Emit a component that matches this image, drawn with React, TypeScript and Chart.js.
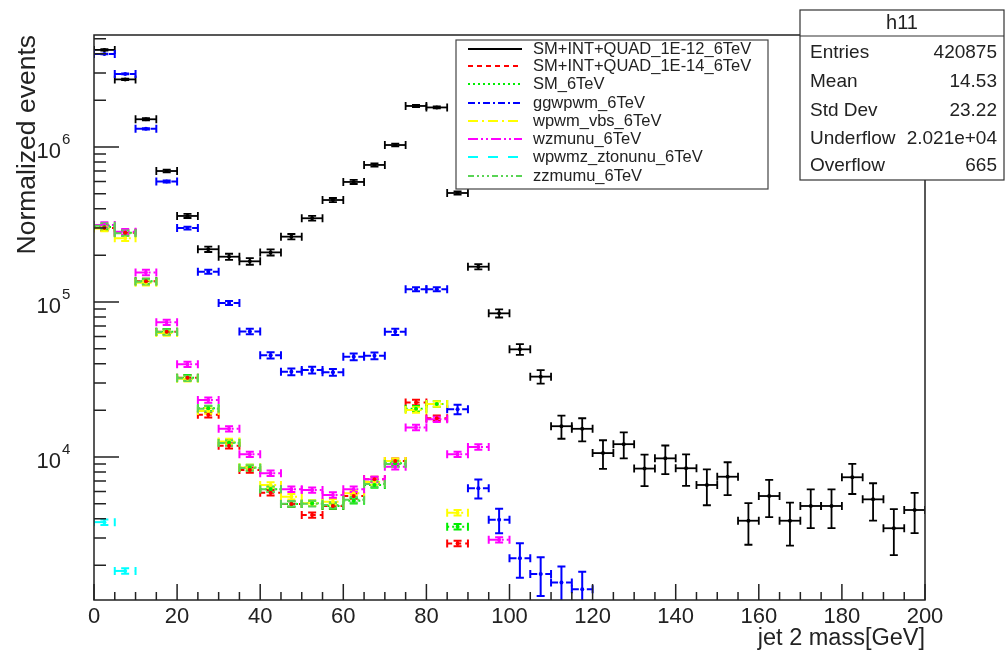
import { useEffect, useRef } from "react";
import { Chart, registerables } from "chart.js";

Chart.register(...registerables);

// ---- Data ----
const BIN_WIDTH = 5;
const binCenters = [
  2.5, 7.5, 12.5, 17.5, 22.5, 27.5, 32.5, 37.5, 42.5, 47.5,
  52.5, 57.5, 62.5, 67.5, 72.5, 77.5, 82.5, 87.5, 92.5, 97.5,
  102.5, 107.5, 112.5, 117.5, 122.5, 127.5, 132.5, 137.5, 142.5, 147.5,
  152.5, 157.5, 162.5, 167.5, 172.5, 177.5, 182.5, 187.5, 192.5, 197.5,
];

const quad12Values = [
  4.23e6, 2.73e6, 1.51e6, 7.0e5, 3.59e5, 2.19e5, 1.96e5, 1.83e5, 2.09e5, 2.64e5,
  3.47e5, 4.55e5, 5.95e5, 7.66e5, 1.03e6, 1.84e6, 1.8e6, 5.05e5, 1.69e5, 8.45e4,
  4.95e4, 3.3e4, 1.58e4, 1.52e4, 1.06e4, 1.21e4, 8.42e3, 9.8e3, 8.46e3, 6.6e3,
  7.46e3, 3.88e3, 5.6e3, 3.88e3, 4.83e3, 4.83e3, 7.4e3, 5.33e3, 3.47e3, 4.55e3,
];
const quad12RelErr = [
  0.01, 0.01, 0.015, 0.02, 0.03, 0.04, 0.045, 0.05, 0.045, 0.04,
  0.035, 0.03, 0.03, 0.025, 0.02, 0.015, 0.015, 0.025, 0.04, 0.06,
  0.08, 0.1, 0.17, 0.17, 0.21, 0.19, 0.23, 0.21, 0.23, 0.26,
  0.24, 0.3, 0.27, 0.31, 0.28, 0.28, 0.22, 0.27, 0.33, 0.29,
];

const quad14Values = [
  3.0e5, 2.8e5, 1.36e5, 6.43e4, 3.25e4, 1.87e4, 1.18e4, 8.24e3, 5.89e3, 4.98e3,
  4.22e3, 4.83e3, 5.6e3, 7.18e3, 9.42e3, 2.25e4, 1.78e4, 2.77e3,
];
const smValues = [
  3.05e5, 2.8e5, 1.36e5, 6.43e4, 3.25e4, 2.06e4, 1.24e4, 8.57e3, 6.19e3, 4.98e3,
  5.03e3, 4.83e3, 5.22e3, 6.6e3, 9.1e3, 2.05e4, 2.2e4, 3.55e3,
];
const ggwpwmValues = [
  3.98e6, 2.96e6, 1.31e6, 6.0e5, 3.0e5, 1.57e5, 9.86e4, 6.46e4, 4.53e4, 3.55e4,
  3.64e4, 3.52e4, 4.43e4, 4.5e4, 6.42e4, 1.21e5, 1.21e5, 2.03e4, 6.28e3, 3.93e3,
  2.22e3, 1.76e3, 1.55e3, 1.4e3,
];
const ggwpwmRelErr = [
  0.005, 0.005, 0.01, 0.015, 0.02, 0.03, 0.03, 0.04, 0.045, 0.05,
  0.05, 0.05, 0.05, 0.05, 0.045, 0.03, 0.03, 0.07, 0.14, 0.18,
  0.25, 0.28, 0.27, 0.3,
];
const wpwmVbsValues = [
  2.98e5, 2.58e5, 1.33e5, 6.3e4, 3.2e4, 1.98e4, 1.26e4, 8.57e3, 6.6e3, 5.55e3,
  5.03e3, 5.15e3, 5.83e3, 6.9e3, 9.42e3, 2.01e4, 2.2e4, 4.37e3,
];
const wzmunuValues = [
  3.14e5, 2.84e5, 1.55e5, 7.4e4, 3.96e4, 2.33e4, 1.52e4, 1.04e4, 7.86e3, 6.2e3,
  6.12e3, 5.69e3, 6.2e3, 7.18e3, 8.65e3, 1.55e4, 1.75e4, 1.04e4, 1.16e4, 2.92e3,
];
const wpwmzValues = [3.8e3, 1.84e3];
const zzmumuValues = [
  3.1e5, 2.78e5, 1.35e5, 6.4e4, 3.22e4, 2.05e4, 1.23e4, 8.5e3, 6.2e3, 5.0e3,
  5.0e3, 4.9e3, 5.3e3, 6.7e3, 9.0e3,
];

const seriesNames = [
  "SM+INT+QUAD_1E-12_6TeV",
  "SM+INT+QUAD_1E-14_6TeV",
  "SM_6TeV",
  "ggwpwm_6TeV",
  "wpwm_vbs_6TeV",
  "wzmunu_6TeV",
  "wpwmz_ztonunu_6TeV",
  "zzmumu_6TeV",
];

const xTickValues = [0, 20, 40, 60, 80, 100, 120, 140, 160, 180, 200];
const yTickExponents = [4, 5, 6];

const statsTitle = "h11";
const statsLabels = ["Entries", "Mean", "Std Dev", "Underflow", "Overflow"];
const statsValues = ["420875", "14.53", "23.22", "2.021e+04", "665"];

const xTitle = "jet 2 mass[GeV]";
const yTitle = "Normalized events";

// ---- Styles ----
const FONT = "'Liberation Sans', Arial, Helvetica, sans-serif";
const seriesStyles = [
  { color: "#000000", dash: [] as number[], lw: 1.8 },
  { color: "#ff0000", dash: [5, 4], lw: 2 },
  { color: "#00ee00", dash: [2, 3], lw: 2 },
  { color: "#0000ff", dash: [7, 3, 2, 3], lw: 2 },
  { color: "#ffff00", dash: [10, 4, 2, 4], lw: 2 },
  { color: "#ff00ff", dash: [10, 3, 2, 3, 2, 3], lw: 2 },
  { color: "#00ffff", dash: [10, 10], lw: 2 },
  { color: "#59d454", dash: [6, 3, 2, 3, 2, 3, 2, 3], lw: 2 },
];
const seriesValues = [
  quad12Values, quad14Values, smValues, ggwpwmValues,
  wpwmVbsValues, wzmunuValues, wpwmzValues, zzmumuValues,
];
const DEFAULT_REL_ERR = 0.04;
const seriesErrors = [quad12RelErr, null, null, ggwpwmRelErr, null, null, null, null];

const histPlugin = {
  id: "rootHist",
  beforeDatasetsDraw(chart: any) {
    const { ctx, chartArea, scales } = chart;
    const xs = scales.x;
    const ys = scales.y;
    ctx.save();
    ctx.beginPath();
    ctx.rect(chartArea.left, chartArea.top, chartArea.right - chartArea.left, chartArea.bottom - chartArea.top);
    ctx.clip();
    seriesValues.forEach((vals, si) => {
      const st = seriesStyles[si];
      const errs = seriesErrors[si];
      ctx.strokeStyle = st.color;
      ctx.lineWidth = st.lw;
      vals.forEach((v, i) => {
        const xc = binCenters[i];
        const e = errs ? errs[i] : DEFAULT_REL_ERR;
        const pl = xs.getPixelForValue(xc - BIN_WIDTH / 2);
        const pr = xs.getPixelForValue(xc + BIN_WIDTH / 2);
        const px = xs.getPixelForValue(xc);
        const py = ys.getPixelForValue(v);
        const pt = ys.getPixelForValue(v * (1 + e));
        const pb = ys.getPixelForValue(Math.max(v * (1 - e), 1));
        ctx.setLineDash(st.dash);
        ctx.beginPath();
        ctx.moveTo(pl, py);
        ctx.lineTo(pr, py);
        ctx.stroke();
        ctx.setLineDash([]);
        ctx.beginPath();
        ctx.moveTo(pl, py - 4);
        ctx.lineTo(pl, py + 4);
        ctx.moveTo(pr, py - 4);
        ctx.lineTo(pr, py + 4);
        ctx.moveTo(px, pt);
        ctx.lineTo(px, pb);
        ctx.moveTo(px - 4, pt);
        ctx.lineTo(px + 4, pt);
        ctx.moveTo(px - 4, pb);
        ctx.lineTo(px + 4, pb);
        ctx.stroke();
      });
    });
    ctx.restore();
  },
  afterDraw(chart: any) {
    const { ctx, chartArea, scales } = chart;
    const xs = scales.x;
    const ys = scales.y;
    const { left, right, top, bottom } = chartArea;
    ctx.save();
    ctx.setLineDash([]);
    ctx.strokeStyle = "#222";
    ctx.lineWidth = 1.5;
    ctx.strokeRect(left, top, right - left, bottom - top);

    // x ticks
    ctx.lineWidth = 1.5;
    ctx.beginPath();
    for (let v = 0; v <= 200; v += 5) {
      const p = xs.getPixelForValue(v);
      const len = v % 20 === 0 ? 16 : 8;
      ctx.moveTo(p, bottom);
      ctx.lineTo(p, bottom - len);
    }
    // y ticks
    for (let ex = 3; ex <= 6; ex++) {
      for (let m = 1; m <= 9; m++) {
        const v = m * Math.pow(10, ex);
        if (v < ys.min || v > ys.max) continue;
        const p = ys.getPixelForValue(v);
        const len = m === 1 ? 25 : 12;
        ctx.moveTo(left, p);
        ctx.lineTo(left + len, p);
      }
    }
    ctx.stroke();

    // x tick labels
    ctx.fillStyle = "#222";
    ctx.font = `22px ${FONT}`;
    ctx.textAlign = "center";
    ctx.textBaseline = "middle";
    xTickValues.forEach((v) => {
      ctx.fillText(String(v), xs.getPixelForValue(v), bottom + 17);
    });

    // y tick labels with superscript
    yTickExponents.forEach((ex) => {
      const p = ys.getPixelForValue(Math.pow(10, ex));
      ctx.font = `22px ${FONT}`;
      ctx.textAlign = "right";
      ctx.textBaseline = "alphabetic";
      ctx.fillText("10", 61, p + 11);
      ctx.font = `15px ${FONT}`;
      ctx.textAlign = "left";
      ctx.fillText(String(ex), 62, p - 3);
    });

    // axis titles
    ctx.font = `23.5px ${FONT}`;
    ctx.textAlign = "right";
    ctx.textBaseline = "middle";
    ctx.fillText(xTitle, right, bottom + 39);
    ctx.save();
    ctx.translate(28, top);
    ctx.rotate(-Math.PI / 2);
    ctx.font = `26.5px ${FONT}`;
    ctx.textAlign = "right";
    ctx.fillText(yTitle, 0, 0);
    ctx.restore();

    // legend
    const lx = 456, ly = 40, lw = 312, lh = 149;
    ctx.fillStyle = "#fff";
    ctx.fillRect(lx, ly, lw, lh);
    ctx.strokeStyle = "#444";
    ctx.lineWidth = 1.2;
    ctx.strokeRect(lx, ly, lw, lh);
    const rowY = [49, 66, 84, 103, 121, 139, 157, 176];
    seriesNames.forEach((name, i) => {
      const st = seriesStyles[i];
      const y = rowY[i];
      ctx.strokeStyle = st.color;
      ctx.lineWidth = st.lw;
      ctx.setLineDash(st.dash);
      ctx.beginPath();
      ctx.moveTo(468, y);
      ctx.lineTo(522, y);
      ctx.stroke();
      ctx.setLineDash([]);
      ctx.fillStyle = "#222";
      ctx.font = `16.5px ${FONT}`;
      ctx.textAlign = "left";
      ctx.textBaseline = "middle";
      ctx.fillText(name, 533, y);
    });

    // stats box
    const sx = 800, sy = 10, sw = 204, sh = 170;
    ctx.fillStyle = "#fff";
    ctx.fillRect(sx, sy, sw, sh);
    ctx.strokeStyle = "#333";
    ctx.lineWidth = 1.2;
    ctx.strokeRect(sx, sy, sw, sh);
    ctx.beginPath();
    ctx.moveTo(sx, 36);
    ctx.lineTo(sx + sw, 36);
    ctx.stroke();
    ctx.fillStyle = "#222";
    ctx.font = `20px ${FONT}`;
    ctx.textAlign = "center";
    ctx.textBaseline = "middle";
    ctx.fillText(statsTitle, sx + sw / 2, 23);
    const sRows = [53, 82, 111, 139, 166];
    ctx.font = `19px ${FONT}`;
    statsLabels.forEach((lab, i) => {
      ctx.textAlign = "left";
      ctx.fillText(lab, 810, sRows[i]);
      ctx.textAlign = "right";
      ctx.fillText(statsValues[i], 997, sRows[i]);
    });
    ctx.restore();
  },
};

export default function App() {
  const canvasRef = useRef<HTMLCanvasElement | null>(null);

  useEffect(() => {
    const canvas = canvasRef.current;
    if (!canvas) return;
    const datasets = seriesValues.map((vals, si) => ({
      label: seriesNames[si],
      data: vals.map((v, i) => ({ x: binCenters[i], y: v })),
      showLine: false,
      pointRadius: 2,
      pointBorderWidth: 0,
      pointBackgroundColor: seriesStyles[si].color,
      pointBorderColor: seriesStyles[si].color,
    }));
    const chart = new Chart(canvas, {
      type: "scatter",
      data: { datasets },
      options: {
        animation: false,
        responsive: false,
        maintainAspectRatio: false,
        layout: { padding: { left: 94, right: 82, top: 35, bottom: 53 } },
        scales: {
          x: { type: "linear", min: 0, max: 200, display: false },
          y: { type: "logarithmic", min: 1195, max: 5.28e6, display: false },
        },
        plugins: { legend: { display: false }, tooltip: { enabled: false } },
      },
      plugins: [histPlugin],
    } as any);
    return () => chart.destroy();
  }, []);

  return (
    <div style={{ position: "absolute", left: 0, top: 0, width: 1007, height: 653, background: "#fff" }}>
      <canvas ref={canvasRef} width={1007} height={653} style={{ width: 1007, height: 653 }} />
    </div>
  );
}
